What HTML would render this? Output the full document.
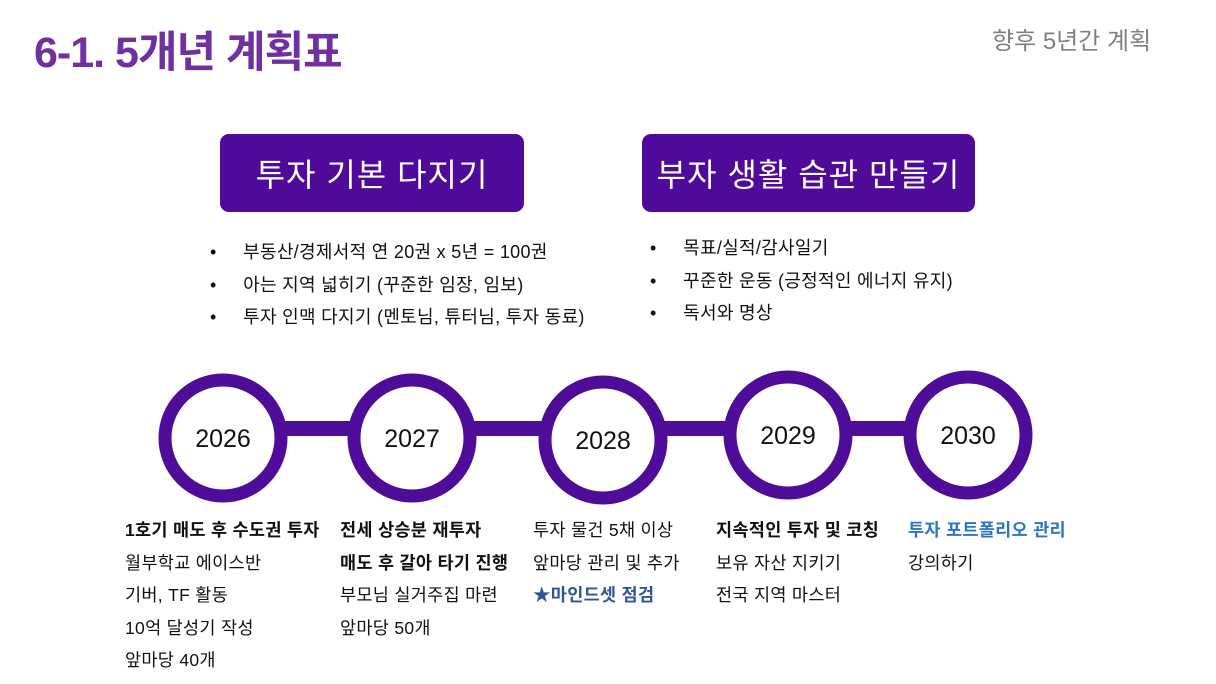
<!DOCTYPE html>
<html><head><meta charset="utf-8"><style>
body{margin:0;width:1216px;height:684px;background:#fff;position:relative;overflow:hidden;font-family:"Liberation Sans","Noto Sans CJK KR",sans-serif;}
.a{position:absolute;white-space:nowrap;}
.title{left:34px;top:18px;font-size:43px;font-weight:bold;color:#7030a0;letter-spacing:-1px;}
.sub{left:992px;top:21px;font-size:24px;color:#808080;}
.box{position:absolute;top:134px;height:78px;background:#4f0a99;border-radius:9px;color:#fff;font-size:32px;display:flex;align-items:center;justify-content:center;letter-spacing:1px;}
.bl{font-size:18px;color:#111;letter-spacing:0.3px;}
.c{font-size:17.5px;color:#111;line-height:32.5px;letter-spacing:0.3px;}
.c b{font-weight:bold;}
</style></head><body>
<div class="a title">6-1. 5개년 계획표</div>
<div class="a sub">향후 5년간 계획</div>
<div class="box" style="left:220px;width:304px;">투자 기본 다지기</div>
<div class="box" style="left:642px;width:333px;">부자 생활 습관 만들기</div>
<div class="a bl" style="left:210px;top:236px;line-height:32.5px">•&nbsp;&nbsp;&nbsp;&nbsp;&nbsp;부동산/경제서적 연 20권 x 5년 = 100권<br>•&nbsp;&nbsp;&nbsp;&nbsp;&nbsp;아는 지역 넓히기 (꾸준한 임장, 임보)<br>•&nbsp;&nbsp;&nbsp;&nbsp;&nbsp;투자 인맥 다지기 (멘토님, 튜터님, 투자 동료)</div>
<div class="a bl" style="left:650px;top:232px;line-height:32.5px">•&nbsp;&nbsp;&nbsp;&nbsp;&nbsp;목표/실적/감사일기<br>•&nbsp;&nbsp;&nbsp;&nbsp;&nbsp;꾸준한 운동 (긍정적인 에너지 유지)<br>•&nbsp;&nbsp;&nbsp;&nbsp;&nbsp;독서와 명상</div>
<svg class="a" style="left:0;top:0" width="1216" height="684">
<g fill="#4f0c99">
<rect x="280" y="421" width="140" height="15"/>
<rect x="470" y="421" width="140" height="15"/>
<rect x="660" y="421" width="140" height="15"/>
<rect x="845" y="421" width="130" height="15"/>
</g>
<g fill="#fff" stroke="#4f0c99" stroke-width="13">
<circle cx="223" cy="438" r="58"/>
<circle cx="412" cy="438" r="58"/>
<circle cx="603" cy="440" r="58"/>
<circle cx="788" cy="435" r="58"/>
<circle cx="968" cy="435" r="58"/>
</g>
<g font-family="Liberation Sans,sans-serif" font-size="25" fill="#111" text-anchor="middle">
<text x="223" y="447">2026</text>
<text x="412" y="447">2027</text>
<text x="603" y="449">2028</text>
<text x="788" y="444">2029</text>
<text x="968" y="444">2030</text>
</g>
</svg>
<div class="a c" style="left:125px;top:514px"><b>1호기 매도 후 수도권 투자</b><br>월부학교 에이스반<br>기버, TF 활동<br>10억 달성기 작성<br>앞마당 40개</div>
<div class="a c" style="left:340px;top:514px"><b>전세 상승분 재투자</b><br><b>매도 후 갈아 타기 진행</b><br>부모님 실거주집 마련<br>앞마당 50개</div>
<div class="a c" style="left:533px;top:514px">투자 물건 5채 이상<br>앞마당 관리 및 추가<br><b style="color:#2f5597">★마인드셋 점검</b></div>
<div class="a c" style="left:716px;top:514px"><b>지속적인 투자 및 코칭</b><br>보유 자산 지키기<br>전국 지역 마스터</div>
<div class="a c" style="left:908px;top:514px"><b style="color:#2e75c8">투자 포트폴리오 관리</b><br>강의하기</div>
</body></html>
